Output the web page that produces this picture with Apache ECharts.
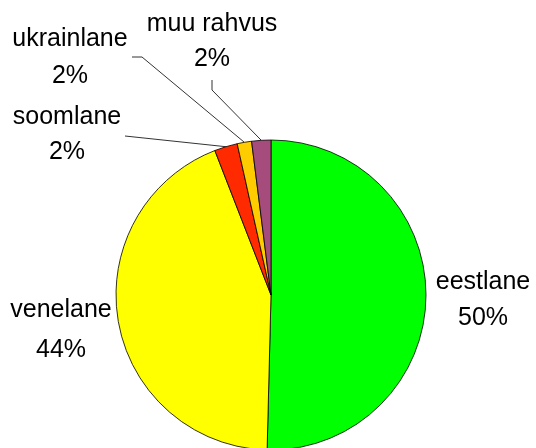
<!DOCTYPE html>
<html>
<head>
<meta charset="utf-8">
<script src="https://cdn.jsdelivr.net/npm/echarts@6/dist/echarts.min.js"></script>
<style>
  html, body { margin: 0; padding: 0; background: #fff; }
  #chart { width: 536px; height: 448px; }
</style>
</head>
<body>
<div id="chart"></div>
<script>
// Rahvuslik koosseis (%)
const categories = ['eestlane', 'venelane', 'soomlane', 'ukrainlane', 'muu rahvus'];
const shares = [50.4, 43.7, 2.4, 1.5, 2.0];
const sliceColors = ['#00FF00', '#FFFF00', '#FF2A00', '#FFCC00', '#A64C7D'];

// Label placement: centre of each two-line label, and an optional elbow for its leader line
const labelCenters = [[483, 300], [61, 330], [67, 135], [70, 58], [212, 42]];
const labelLineHeights = [36, 40, 35, 37, 35];
const leaderEnds = [null, null, [[125, 136], [125, 136]], [[132, 57], [142, 57]], [[212, 80], [212, 90]]];

const chart = echarts.init(document.getElementById('chart'), null, { renderer: 'canvas' });

chart.setOption({
  animation: false,
  series: [{
    type: 'pie',
    center: [271, 295],
    radius: 155,
    startAngle: 90,
    clockwise: true,
    percentPrecision: 0,
    avoidLabelOverlap: false,
    itemStyle: { borderColor: '#000', borderWidth: 0.8 },
    label: {
      show: true,
      formatter: '{b}\n{d}%',
      fontFamily: '"Liberation Sans", Arial, sans-serif',
      fontSize: 25,
      lineHeight: 36,
      color: '#000',
      align: 'center'
    },
    labelLine: {
      show: true,
      lineStyle: { color: '#333', width: 1 }
    },
    labelLayout: function (params) {
      const i = params.dataIndex;
      const c = labelCenters[i];
      const out = { x: c[0], y: c[1], align: 'center', verticalAlign: 'middle' };
      const ends = leaderEnds[i];
      if (ends && params.labelLinePoints) {
        const start = params.labelLinePoints[0];
        out.labelLinePoints = [start, ends[1], ends[0]];
      }
      return out;
    },
    data: categories.map((name, i) => ({
      name: name,
      value: shares[i],
      itemStyle: { color: sliceColors[i] },
      label: { lineHeight: labelLineHeights[i] },
      labelLine: { show: leaderEnds[i] !== null }
    }))
  }]
});
</script>
</body>
</html>
